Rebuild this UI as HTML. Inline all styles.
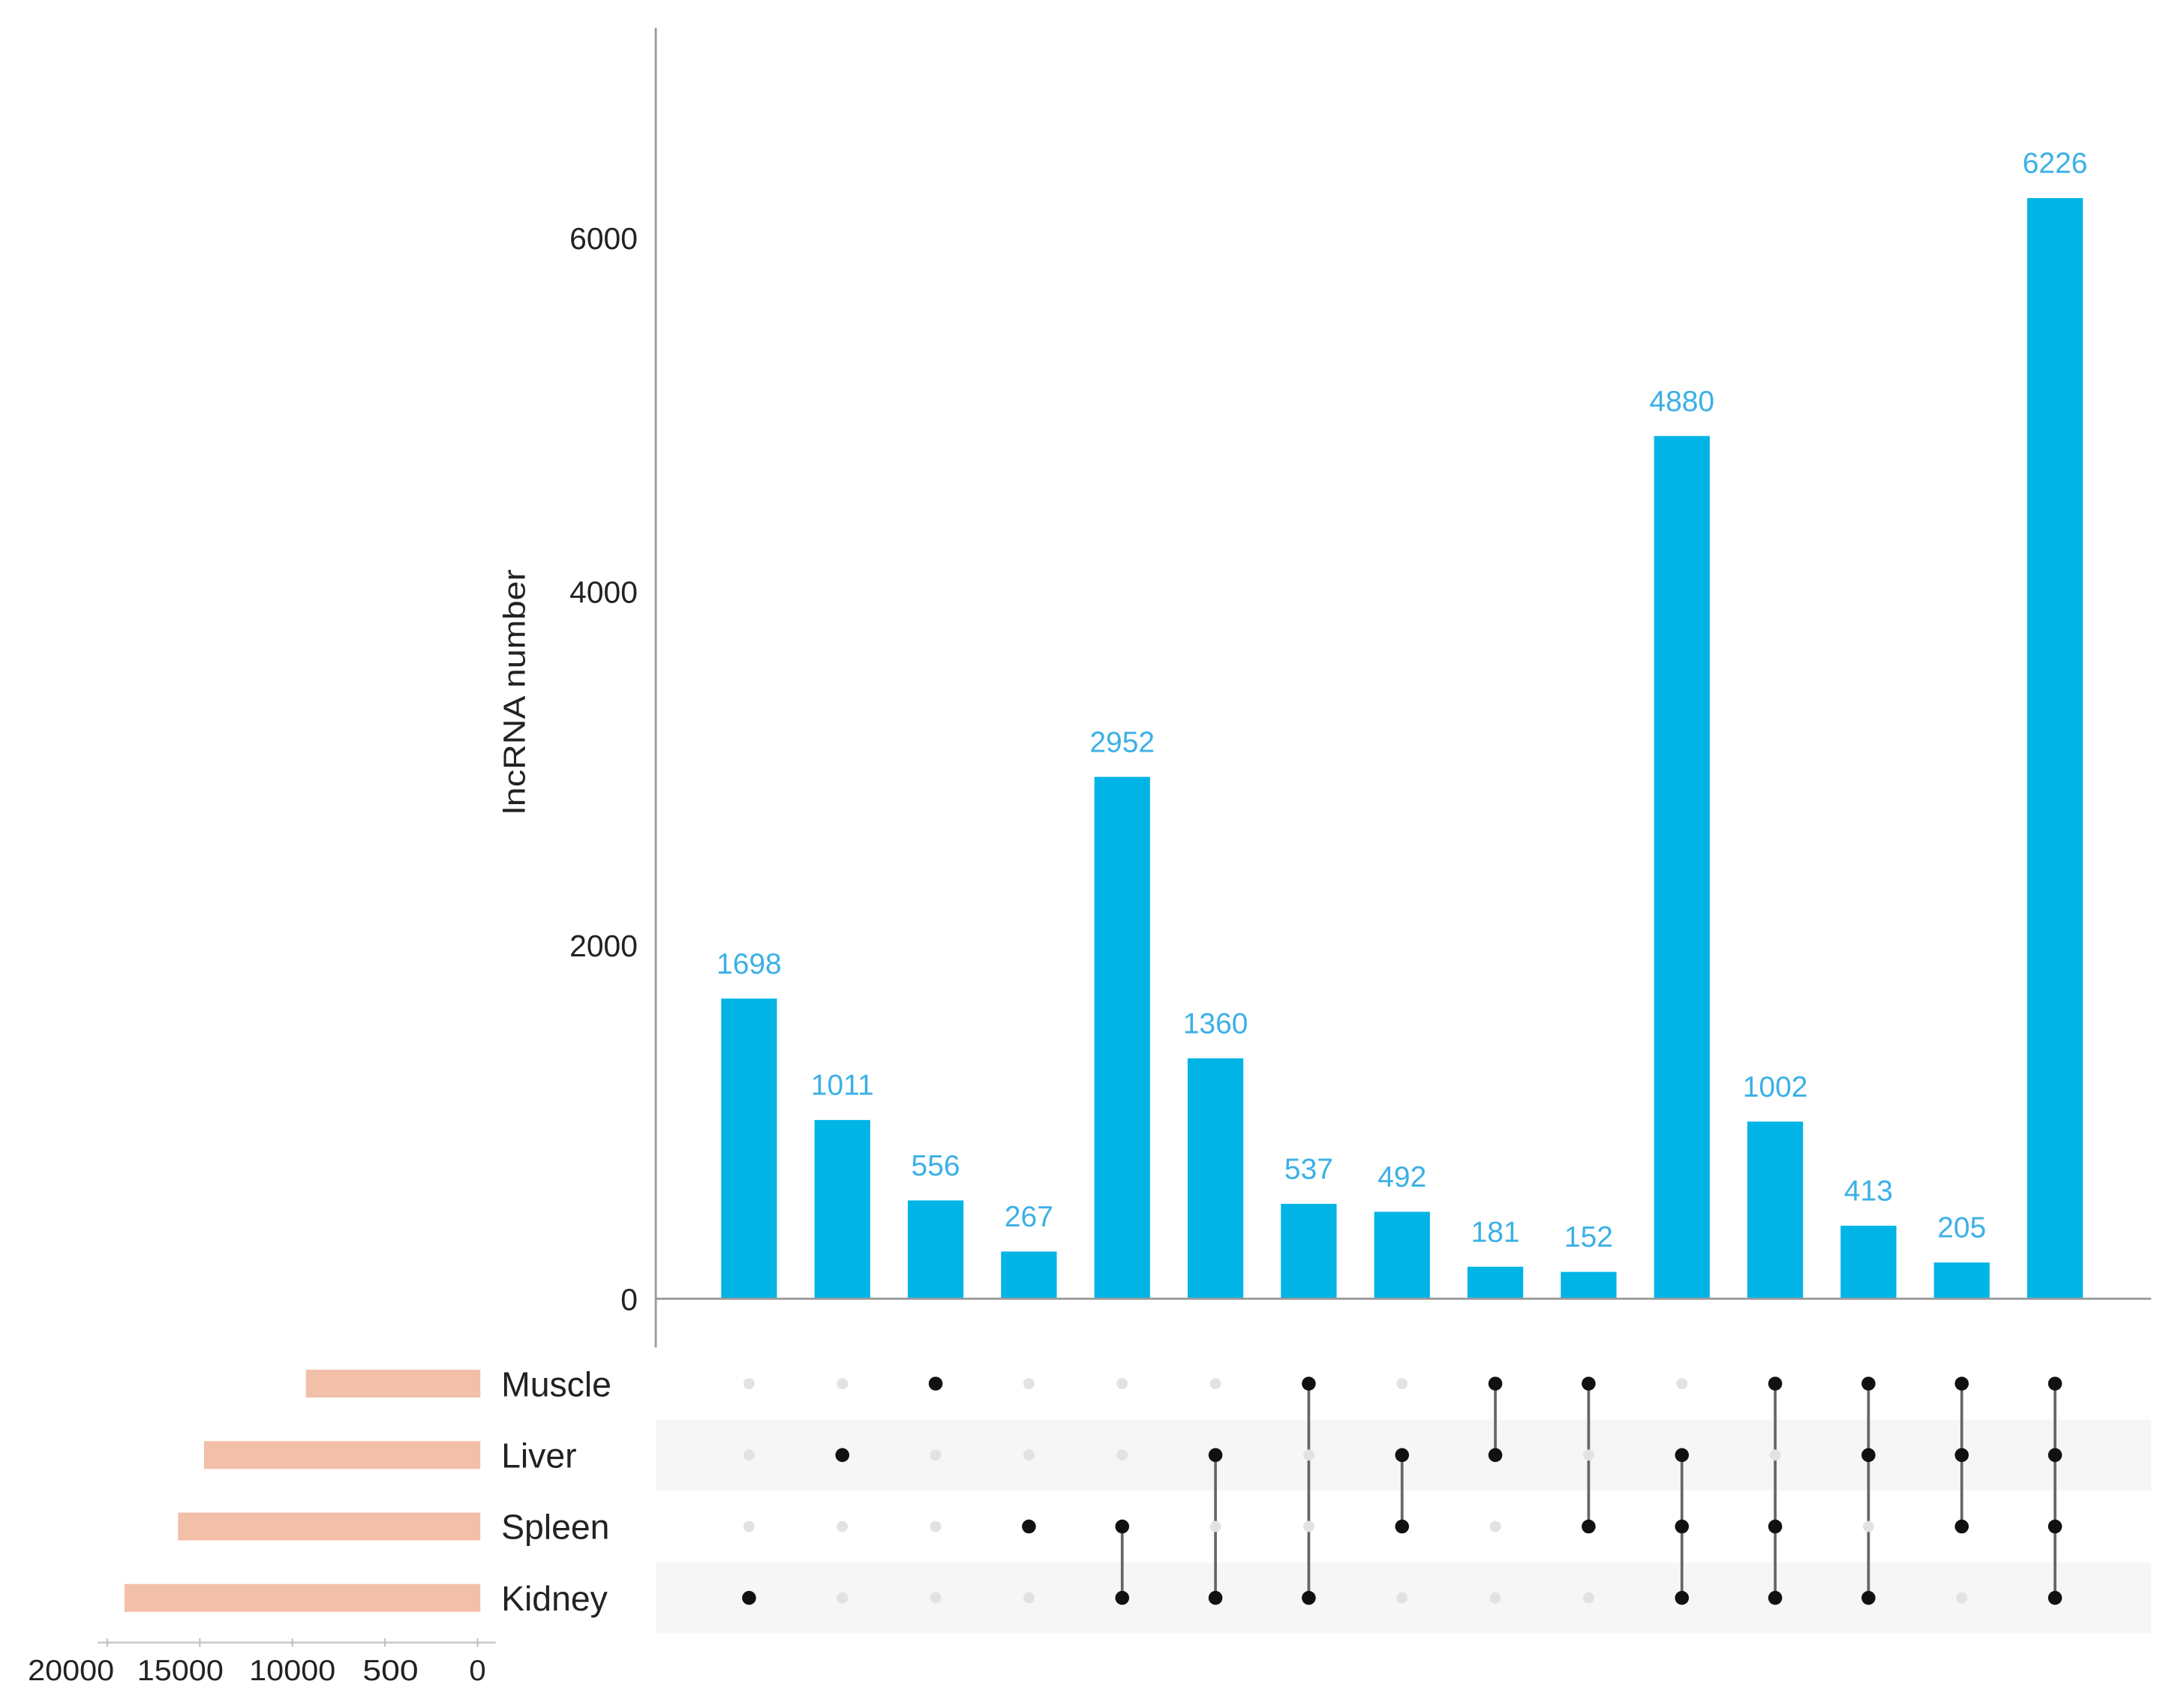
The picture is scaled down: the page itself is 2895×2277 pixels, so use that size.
<!DOCTYPE html>
<html><head><meta charset="utf-8"><style>
html,body{margin:0;padding:0;background:#fff;}
svg{display:block;}
text{font-family:"Liberation Sans",sans-serif;}
</style></head><body>
<svg id="chart" width="2895" height="2277" viewBox="0 0 1560 1227" preserveAspectRatio="none" xmlns="http://www.w3.org/2000/svg">
<g id="bg"></g>
<g id="bars"></g>
<g id="axis"></g>
<g id="matrix"></g>
<g id="sets"></g>
</svg>
<script>
const intersectionValues = [1698,1011,556,267,2952,1360,537,492,181,152,4880,1002,413,205,6226];
const setNames = ["Muscle","Liver","Spleen","Kidney"];
const setSizes = [9272,14768,16176,19068];
// membership rows: Muscle, Liver, Spleen, Kidney
const memberships = [
 [0,0,0,1],[0,1,0,0],[1,0,0,0],[0,0,1,0],[0,0,1,1],[0,1,0,1],[1,0,0,1],[0,1,1,0],
 [1,1,0,0],[1,0,1,0],[0,1,1,1],[1,0,1,1],[1,1,0,1],[1,1,1,0],[1,1,1,1]];
const yTicks = [0,2000,4000,6000];
const setTicks = [20000,15000,10000,5000,0];
const setTickLabels = ["20000","15000","10000","500","0"];

const NS="http://www.w3.org/2000/svg";
function mk(tag,attrs,parent,txt){const e=document.createElementNS(NS,tag);for(const k in attrs)e.setAttribute(k,attrs[k]);if(txt!==undefined)e.textContent=txt;parent.appendChild(e);return e;}
const y=v=>933-v*(762/6000);
const x=i=>538+i*67;
const rowY=r=>994+r*51.3;
const sx=v=>343-v*(266/20000);

const bg=document.getElementById('bg'),bars=document.getElementById('bars'),axis=document.getElementById('axis'),matrix=document.getElementById('matrix'),sets=document.getElementById('sets');

[1,3].forEach(r=>{const b=mk('rect',{x:471,y:rowY(r)-25.5,width:1074,height:51,fill:'#f6f6f6'},bg);

});

intersectionValues.forEach((v,i)=>{
 const r=mk('rect',{x:x(i)-20,y:y(v),width:40,height:933-y(v),fill:'#00b4e6'},bars);
 
 
 const t=mk('text',{x:x(i),y:y(v)-18,'text-anchor':'middle','font-size':21,fill:'#3bb0e6'},bars,String(v));
 
 
});

const al=mk('line',{x1:471,y1:20,x2:471,y2:968,stroke:'#999','stroke-width':1.5},axis);


const bl=mk('line',{x1:471,y1:933,x2:1545,y2:933,stroke:'#999','stroke-width':1.5},axis);


yTicks.forEach(v=>{const t=mk('text',{x:458,y:y(v)+8,'text-anchor':'end','font-size':22,fill:'#222'},axis,String(v));

});
const yl=mk('text',{x:0,y:0,transform:'translate(377,497) rotate(-90)','text-anchor':'middle','font-size':22,fill:'#222',textLength:176,lengthAdjust:'spacingAndGlyphs'},axis,'lncRNA number');



memberships.forEach((m,i)=>{
 const on=m.map((b,r)=>b?r:-1).filter(r=>r>=0);
 if(on.length>1){const l=mk('line',{x1:x(i),y1:rowY(on[0]),x2:x(i),y2:rowY(on[on.length-1]),stroke:'#666','stroke-width':2},matrix);
 
 }
 m.forEach((b,r)=>{const c=mk('circle',{cx:x(i),cy:rowY(r),r:b?5:4,fill:b?'#111':'#e2e2e2'},matrix);
 
 });
});

setNames.forEach((n,r)=>{
 const b=mk('rect',{x:sx(setSizes[r]),y:rowY(r)-10,width:345-sx(setSizes[r]),height:20,fill:'#f2bfa8'},sets);
 
 
 const t=mk('text',{x:360,y:rowY(r)+9,'font-size':25,fill:'#222'},sets,n);
 
 
});
const sa=mk('line',{x1:70,y1:1180,x2:356,y2:1180,stroke:'#ccc','stroke-width':1.5},sets);


setTicks.forEach((v,k)=>{
 const tk=mk('line',{x1:sx(v),y1:1177,x2:sx(v),y2:1183,stroke:'#bbb','stroke-width':1},sets);
 
 
 const t=mk('text',{x:sx(v)-(k===0?26:k===1?14:k===2?0:k===3?-4:0),y:1207,'text-anchor':'middle','font-size':21,fill:'#222',textLength:(k<3?62:k===3?40:12),lengthAdjust:'spacingAndGlyphs'},sets,setTickLabels[k]);
 
 
});
</script>
</body></html>
